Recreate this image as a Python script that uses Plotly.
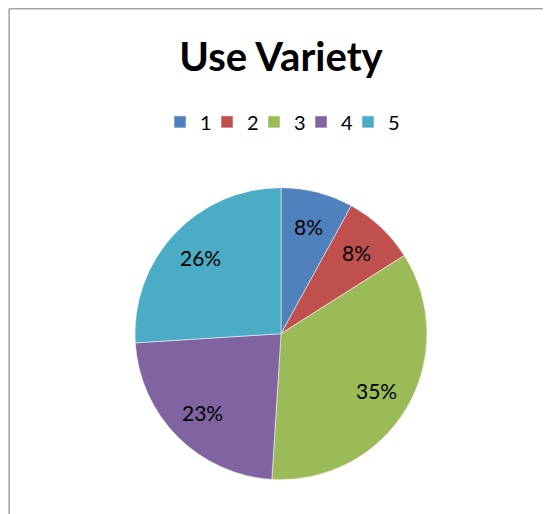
import math
import plotly.graph_objects as go

# ---- data ----
categories = ["1", "2", "3", "4", "5"]
values = [8, 8, 35, 23, 26]
colors = ["#4F81BD", "#C0504D", "#9BBB59", "#8064A2", "#4BACC6"]
title_text = "Use Variety"

W, H = 551, 514
FONT = "Lato"
OFF = 8.0  # page offset of the figure (body margin)

def fx(px):  # page x -> paper x
    return (px - OFF) / W

def fy(py):  # page y -> paper y
    return 1 - (py - OFF) / H

# pie geometry in page pixels
cx, cy, r = 281.0, 333.7, 146.0

fig = go.Figure()
fig.add_trace(go.Pie(
    labels=categories,
    values=values,
    sort=False,
    direction="clockwise",
    rotation=0,
    marker=dict(colors=colors, line=dict(color="white", width=0.5)),
    textinfo="none",
    hoverinfo="label+percent",
    domain=dict(x=[fx(cx - r), fx(cx + r)], y=[fy(cy + r), fy(cy - r)]),
))

# percentage labels placed at mid-angle of each slice
total = sum(values)
annotations = []
cum = 0.0
for v in values:
    mid = (cum + v / 2) / total * 2 * math.pi
    cum += v
    px = cx + 0.76 * r * math.sin(mid)
    py = cy - 0.76 * r * math.cos(mid)
    annotations.append(dict(
        x=fx(px), y=fy(py), xref="paper", yref="paper",
        text=f"{round(v / total * 100)}%", showarrow=False,
        font=dict(family=FONT, size=21, color="#000000"),
        xanchor="center", yanchor="middle",
    ))

fig.update_layout(
    width=W, height=H,
    margin=dict(l=0, r=0, t=0, b=0),
    paper_bgcolor="white",
    plot_bgcolor="white",
    title=dict(
        text=f"<b>{title_text}</b>",
        x=fx(281), xanchor="center",
        y=fy(57), yanchor="middle",
        font=dict(family=FONT, size=40, color="#000000"),
    ),
    showlegend=True,
    legend=dict(
        orientation="h",
        x=fx(160), xanchor="left",
        y=fy(122 + 20), yanchor="bottom",
        font=dict(family=FONT, size=20, color="#000000"),
        entrywidth=2,
        traceorder="normal",
        bgcolor="rgba(0,0,0,0)",
        title=dict(text="&nbsp;" * 140, side="top",
                   font=dict(family=FONT, size=8, color="white")),
    ),
    annotations=annotations,
    shapes=[
        dict(type="line", xref="paper", yref="paper",
             x0=fx(9.2), x1=1.05, y0=fy(8.6), y1=fy(8.6),
             line=dict(color="#a6a6a6", width=1.6)),
        dict(type="line", xref="paper", yref="paper",
             x0=fx(9.2), x1=fx(9.2), y0=-0.05, y1=fy(8.6),
             line=dict(color="#a6a6a6", width=1.6)),
    ],
)

fig.write_html("out.html")
